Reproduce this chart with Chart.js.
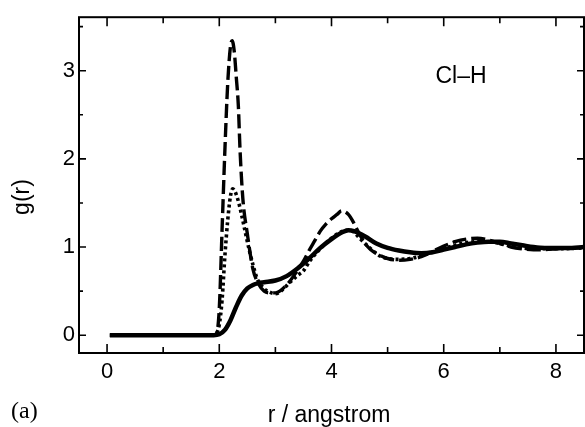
<!DOCTYPE html>
<html><head><meta charset="utf-8">
<script src="https://cdn.jsdelivr.net/npm/chart.js@4/dist/chart.umd.min.js"></script>
<style>html,body{margin:0;padding:0;background:#fff}#wrap{width:585px;height:427px}</style>
</head><body><div id="wrap"><canvas id="c" width="585" height="427"></canvas></div>
<script>
// r / angstrom and g(r) values
const solidR = [0.05,1.9,2.0,2.1,2.2,2.3,2.4,2.5,2.6,2.7,2.8,3.0,3.2,3.4,3.6,3.8,4.0,4.2,4.3,4.4,4.6,4.8,5.0,5.2,5.4,5.6,5.8,6.0,6.2,6.4,6.6,6.8,7.0,7.2,7.4,7.6,7.8,8.0,8.2,8.5];
const solidG = [0,0,0.01,0.06,0.17,0.32,0.45,0.53,0.57,0.59,0.60,0.62,0.67,0.76,0.87,0.99,1.09,1.17,1.19,1.18,1.12,1.04,0.99,0.96,0.94,0.93,0.94,0.97,1.00,1.03,1.05,1.06,1.06,1.04,1.02,1.00,0.99,0.99,0.99,1.00];

const dashR = [0.05,1.9,1.95,2.0,2.05,2.1,2.15,2.2,2.23,2.27,2.3,2.34,2.37,2.42,2.5,2.6,2.7,2.8,2.9,3.0,3.2,3.4,3.5,3.6,3.7,3.8,3.9,4.0,4.1,4.18,4.3,4.4,4.47,4.6,4.7,4.85,5.0,5.2,5.4,5.6,5.8,6.0,6.2,6.4,6.6,6.8,7.0,7.2,7.4,7.6,7.8,8.0,8.2,8.5];
const dashG = [0,0,0.02,0.3,1.2,2.1,2.85,3.28,3.34,3.2,2.95,2.6,2.1,1.55,1.15,0.75,0.58,0.5,0.48,0.48,0.57,0.74,0.84,0.96,1.07,1.18,1.26,1.32,1.37,1.41,1.37,1.27,1.18,1.04,0.97,0.91,0.87,0.85,0.86,0.89,0.95,1.01,1.06,1.09,1.10,1.08,1.04,1.00,0.98,0.97,0.97,0.98,0.99,0.99];

const dotR = [0.05,1.9,1.95,2.0,2.05,2.1,2.15,2.2,2.24,2.3,2.36,2.42,2.48,2.54,2.6,2.67,2.78,2.93,3.0,3.1,3.26,3.4,3.5,3.61,3.8,4.0,4.2,4.3,4.4,4.5,4.7,4.86,5.0,5.2,5.4,5.6,5.8,6.0,6.2,6.4,6.6,6.8,7.0,7.2,7.4,7.6,7.8,8.0,8.5];
const dotG = [0,0,0.02,0.12,0.4,0.9,1.3,1.58,1.66,1.6,1.47,1.3,1.12,0.95,0.8,0.65,0.54,0.48,0.47,0.5,0.6,0.68,0.73,0.84,0.98,1.1,1.18,1.19,1.17,1.1,0.98,0.9,0.87,0.86,0.87,0.9,0.94,0.98,1.02,1.05,1.06,1.06,1.04,1.01,0.99,0.98,0.98,0.98,0.99];

const xTickValues = [0,2,4,6,8];
const yTickValues = [0,1,2,3];
const xMinorValues = [1,3,5,7];
const yMinorValues = [0.5,1.5,2.5,3.5];

const labelText = 'Cl–H';
const panelText = '(a)';
const xTitle = 'r / angstrom';
const yTitle = 'g(r)';

const pts = (R,G) => R.map((r,i)=>({x:r,y:G[i]}));

const framePlugin = {
  id:'frame',
  afterDatasetsDraw(chart){
    const {ctx, chartArea:a, scales:{x,y}} = chart;
    ctx.save();
    ctx.strokeStyle='#000'; ctx.lineWidth=2;
    ctx.strokeRect(a.left, a.top, a.right-a.left, a.bottom-a.top);
    ctx.lineWidth=1.6;
    const tickX=(v,len)=>{const p=x.getPixelForValue(v);
      ctx.beginPath();ctx.moveTo(p,a.bottom);ctx.lineTo(p,a.bottom-len);
      ctx.moveTo(p,a.top);ctx.lineTo(p,a.top+len);ctx.stroke();};
    const tickY=(v,len)=>{const p=y.getPixelForValue(v);
      ctx.beginPath();ctx.moveTo(a.left,p);ctx.lineTo(a.left+len,p);
      ctx.moveTo(a.right,p);ctx.lineTo(a.right-len,p);ctx.stroke();};
    xTickValues.forEach(v=>tickX(v,9));
    xMinorValues.forEach(v=>tickX(v,6));
    yTickValues.forEach(v=>tickY(v,7));
    yMinorValues.forEach(v=>tickY(v,4));
    ctx.fillStyle='#000';
    ctx.font='23px "Liberation Sans", Arial, sans-serif';
    ctx.textAlign='center'; ctx.textBaseline='alphabetic';
    ctx.fillText(labelText, 461, 83);
    ctx.fillText(xTitle, 329, 422);
    ctx.save();
    ctx.translate(29,197); ctx.rotate(-Math.PI/2);
    ctx.fillText(yTitle,0,0);
    ctx.restore();
    ctx.font='24px "Liberation Serif", "Times New Roman", serif';
    ctx.textAlign='left';
    ctx.fillText(panelText, 11, 418);
    ctx.restore();
  }
};

new Chart(document.getElementById('c'), {
  type:'line',
  data:{datasets:[
    {data:pts(dashR,dashG), borderColor:'#000', borderWidth:3.4, borderDash:[14,5], pointRadius:0, fill:false, cubicInterpolationMode:'monotone'},
    {data:pts(dotR,dotG), borderColor:'#000', borderWidth:3.6, borderDash:[3,3], pointRadius:0, fill:false, cubicInterpolationMode:'monotone'},
    {data:pts(solidR,solidG), borderColor:'#000', borderWidth:4.5, pointRadius:0, fill:false, cubicInterpolationMode:'monotone'}
  ]},
  options:{
    responsive:false, animation:false, devicePixelRatio:1,
    layout:{padding:{left:0,top:13,right:1,bottom:0}},
    plugins:{legend:{display:false}, tooltip:{enabled:false}},
    scales:{
      x:{type:'linear', min:-0.5, max:8.5,
        afterBuildTicks:s=>{s.ticks=xTickValues.map(v=>({value:v}));},
        afterFit:s=>{s.height=74;},
        grid:{display:false, drawTicks:false}, border:{display:false},
        ticks:{color:'#000', padding:6, maxRotation:0, font:{family:'"Liberation Sans", Arial, sans-serif', size:22}}},
      y:{type:'linear', min:-0.202, max:3.607,
        afterBuildTicks:s=>{s.ticks=yTickValues.map(v=>({value:v}));},
        afterFit:s=>{s.width=79;},
        grid:{display:false, drawTicks:false}, border:{display:false},
        ticks:{color:'#000', padding:4, font:{family:'"Liberation Sans", Arial, sans-serif', size:22}}}
    }
  },
  plugins:[framePlugin]
});
</script></body></html>
